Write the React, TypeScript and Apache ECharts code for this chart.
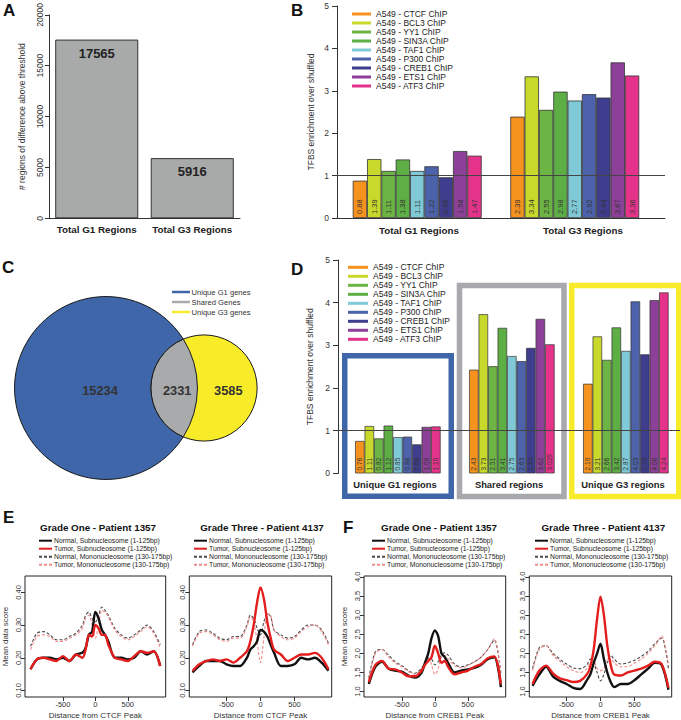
import React, { useEffect, useRef } from 'react';
import * as echarts from 'echarts';

const FONT = "'Liberation Sans', Arial, Helvetica, sans-serif";

// ---------- Panel A ----------
const A_CATEGORIES = ['Total G1 Regions', 'Total G3 Regions'];
const A_VALUES = [17565, 5916];

// ---------- TF list (B, D) ----------
const TF_NAMES = [
  'A549 - CTCF ChIP', 'A549 - BCL3 ChIP', 'A549 - YY1 ChIP', 'A549 - SIN3A ChIP', 'A549 - TAF1 ChIP',
  'A549 - P300 ChIP', 'A549 - CREB1 ChIP', 'A549 - ETS1 ChIP', 'A549 - ATF3 ChIP',
];
const TF_COLORS = ['#f6921e', '#c8d92b', '#6cb443', '#5dae45', '#7fcad6', '#4c62ab', '#3f3d8e', '#8d4098', '#e5338b'];

// ---------- Panel B ----------
const B_GROUPS = ['Total G1 Regions', 'Total G3 Regions'];
const B_G1 = [0.88, 1.39, 1.11, 1.38, 1.11, 1.22, 0.96, 1.58, 1.47];
const B_G3 = [2.39, 3.34, 2.55, 2.98, 2.77, 2.92, 2.84, 3.67, 3.36];

// ---------- Panel C ----------
const C_LABELS = ['Unique G1 genes', 'Shared Genes', 'Unique G3 genes'];
const C_VALUES = [15234, 2331, 3585];
const C_COLORS = ['#3f66a8', '#a8aaac', '#f8ec29'];

// ---------- Panel D ----------
const D_GROUPS = ['Unique G1 regions', 'Shared regions', 'Unique G3 regions'];
const D_UNIQUE_G1 = [0.76, 1.11, 0.82, 1.12, 0.85, 0.86, 0.68, 1.09, 1.10];
const D_SHARED = [2.43, 3.73, 2.51, 3.41, 2.75, 2.63, 2.94, 3.62, 3.025];
const D_UNIQUE_G3 = [2.10, 3.21, 2.66, 3.42, 2.87, 4.03, 2.79, 4.06, 4.24];
const D_BOX_COLORS = ['#3f66a9', '#a7a9ac', '#f8ec2a'];

// ---------- Panels E, F ----------
const X_POS = [-1000, -900, -800, -700, -600, -500, -400, -300, -200, -150, -100, -50, 0, 50, 100, 150, 200, 300, 400, 500, 600, 700, 800, 900, 1000];
const LINE_NAMES = ['Normal, Subnucleosome (1-125bp)', 'Tumor, Subnucleosome (1-125bp)', 'Normal, Mononucleosome (130-175bp)', 'Tumor, Mononucleosome (130-175bp)'];

const E1_NORMAL_SUB = [0.165, 0.195, 0.20, 0.20, 0.195, 0.20, 0.19, 0.21, 0.215, 0.23, 0.27, 0.28, 0.34, 0.32, 0.285, 0.27, 0.25, 0.20, 0.20, 0.195, 0.20, 0.22, 0.21, 0.22, 0.175];
const E1_TUMOR_SUB = [0.165, 0.195, 0.20, 0.195, 0.19, 0.205, 0.19, 0.21, 0.20, 0.225, 0.27, 0.265, 0.30, 0.29, 0.27, 0.27, 0.24, 0.20, 0.195, 0.19, 0.205, 0.22, 0.215, 0.22, 0.175];
const E1_NORMAL_MONO = [0.235, 0.275, 0.28, 0.27, 0.255, 0.255, 0.265, 0.275, 0.30, 0.33, 0.34, 0.32, 0.31, 0.33, 0.355, 0.345, 0.33, 0.29, 0.27, 0.26, 0.27, 0.285, 0.30, 0.28, 0.24];
const E1_TUMOR_MONO = [0.225, 0.265, 0.27, 0.265, 0.25, 0.25, 0.26, 0.27, 0.29, 0.32, 0.33, 0.30, 0.26, 0.30, 0.345, 0.34, 0.325, 0.285, 0.265, 0.255, 0.265, 0.28, 0.295, 0.275, 0.23];

const E3_NORMAL_SUB = [0.155, 0.175, 0.19, 0.19, 0.19, 0.18, 0.175, 0.175, 0.20, 0.225, 0.235, 0.25, 0.285, 0.28, 0.265, 0.24, 0.215, 0.175, 0.175, 0.18, 0.20, 0.195, 0.20, 0.185, 0.16];
const E3_TUMOR_SUB = [0.16, 0.18, 0.19, 0.195, 0.19, 0.195, 0.185, 0.20, 0.22, 0.25, 0.30, 0.37, 0.415, 0.38, 0.31, 0.26, 0.225, 0.21, 0.19, 0.20, 0.21, 0.21, 0.215, 0.20, 0.165];
const E3_NORMAL_MONO = [0.24, 0.28, 0.285, 0.275, 0.26, 0.255, 0.265, 0.265, 0.30, 0.33, 0.32, 0.29, 0.27, 0.31, 0.335, 0.325, 0.285, 0.27, 0.26, 0.265, 0.285, 0.30, 0.30, 0.285, 0.245];
const E3_TUMOR_MONO = [0.235, 0.275, 0.28, 0.27, 0.255, 0.25, 0.26, 0.26, 0.295, 0.325, 0.31, 0.25, 0.185, 0.26, 0.335, 0.33, 0.285, 0.265, 0.255, 0.26, 0.28, 0.295, 0.30, 0.28, 0.24];

const F1_NORMAL_SUB = [1.2, 1.65, 1.78, 1.6, 1.55, 1.52, 1.42, 1.37, 1.5, 1.75, 2.0, 2.4, 2.6, 2.45, 2.0, 1.9, 1.75, 1.5, 1.55, 1.58, 1.62, 1.7, 1.85, 1.9, 1.12];
const F1_TUMOR_SUB = [1.25, 1.7, 1.8, 1.6, 1.58, 1.5, 1.4, 1.4, 1.55, 1.7, 1.8, 1.9, 2.2, 2.0, 1.75, 1.8, 1.65, 1.45, 1.5, 1.55, 1.65, 1.72, 1.87, 1.92, 1.2];
const F1_NORMAL_MONO = [1.35, 2.05, 2.1, 1.95, 1.78, 1.68, 1.55, 1.48, 1.62, 1.75, 1.87, 1.85, 1.7, 1.78, 1.95, 2.02, 1.95, 1.72, 1.65, 1.7, 1.78, 1.9, 2.1, 2.35, 1.45];
const F1_TUMOR_MONO = [1.3, 2.0, 2.1, 1.9, 1.75, 1.65, 1.52, 1.45, 1.6, 1.75, 1.9, 1.7, 1.45, 1.6, 1.9, 1.95, 1.85, 1.68, 1.62, 1.68, 1.78, 1.9, 2.1, 2.38, 1.5];

const F3_NORMAL_SUB = [1.15, 1.45, 1.65, 1.4, 1.28, 1.2, 1.1, 1.07, 1.3, 1.45, 1.75, 2.0, 2.25, 1.85, 1.5, 1.25, 1.12, 1.2, 1.2, 1.3, 1.45, 1.6, 1.75, 1.7, 1.05];
const F3_TUMOR_SUB = [1.2, 1.55, 1.68, 1.48, 1.35, 1.3, 1.25, 1.28, 1.45, 1.65, 2.1, 2.9, 3.48, 3.0, 2.2, 1.7, 1.45, 1.42, 1.5, 1.55, 1.6, 1.68, 1.78, 1.72, 1.1];
const F3_NORMAL_MONO = [1.6, 2.15, 2.2, 2.0, 1.85, 1.72, 1.62, 1.6, 1.7, 1.85, 1.75, 1.5, 1.28, 1.45, 1.75, 1.95, 1.85, 1.72, 1.75, 1.82, 1.92, 2.05, 2.25, 2.4, 1.6];
const F3_TUMOR_MONO = [1.55, 2.1, 2.2, 1.95, 1.8, 1.65, 1.55, 1.5, 1.6, 1.75, 1.8, 1.6, 1.55, 1.6, 1.85, 1.85, 1.75, 1.65, 1.65, 1.75, 1.85, 2.0, 2.2, 2.45, 1.7];

const E_Y_TICKS = [0.1, 0.2, 0.3, 0.4];
const F_Y_TICKS = [1.0, 1.5, 2.0, 2.5, 3.0, 3.5, 4.0];
const X_TICKS = [-500, 0, 500];

const fmtVal = (v: number) => {
  const s = String(v);
  const dec = s.split('.')[1];
  return dec && dec.length > 2 ? s : v.toFixed(2);
};

export default function App() {
  const ref = useRef<HTMLDivElement>(null);

  useEffect(() => {
    if (!ref.current) return;

    // ----- Venn geometry (area proportional radii) -----
    const K = 0.69;
    const r1 = K * Math.sqrt(C_VALUES[0] + C_VALUES[1]);
    const r2 = K * Math.sqrt(C_VALUES[2] + C_VALUES[1]);
    const cy = 388;
    const c1x = 106;
    const c2x = 151 + r2;
    const d = c2x - c1x;
    const a = (d * d + r1 * r1 - r2 * r2) / (2 * d);
    const h = Math.sqrt(Math.max(0, r1 * r1 - a * a));
    const ix = c1x + a;
    const lensD = `M ${ix} ${cy - h} A ${r2} ${r2} 0 0 0 ${ix} ${cy + h} A ${r1} ${r1} 0 0 0 ${ix} ${cy - h} Z`;
    echarts.graphic.registerShape('vennLens', echarts.graphic.extendPath(lensD, {}) as any);

    const chart = echarts.init(ref.current, null, { renderer: 'svg' });

    const axisColor = '#333';
    const tickLabel = { color: '#333', fontSize: 8.5, fontFamily: FONT };

    // ----- B and D bar layout -----
    const B_XMAX = 22.9;
    const B_START = 1.1;
    const B_STEP = 11;
    const D_XMAX = 36;
    const D_START = 1.8;
    const D_STEP = 12;
    const bGroups = [B_G1, B_G3];
    const dGroups = [D_UNIQUE_G1, D_SHARED, D_UNIQUE_G3];

    const xAxis: any[] = [];
    const yAxis: any[] = [];
    const grid: any[] = [];
    const series: any[] = [];
    const legend: any[] = [];
    const graphic: any[] = [];

    // ===== Panel A =====
    grid.push({ left: 49, top: 5, width: 191, height: 213.3 });
    xAxis.push({
      gridIndex: 0, type: 'category', data: A_CATEGORIES,
      axisLine: { lineStyle: { color: axisColor } }, axisTick: { show: false },
      axisLabel: { interval: 0, fontWeight: 'bold', fontSize: 9.8, color: '#222', margin: 6, fontFamily: FONT },
    });
    yAxis.push({
      gridIndex: 0, type: 'value', min: 0, max: 20000, interval: 5000,
      axisLine: { show: true, lineStyle: { color: axisColor } },
      axisTick: { show: true, length: 4, lineStyle: { color: axisColor } },
      axisLabel: { ...tickLabel, rotate: 90, margin: 5, formatter: (v: number) => String(v) },
      splitLine: { show: false },
      name: '# regions of difference above threshold', nameLocation: 'middle', nameGap: 23,
      nameTextStyle: { fontSize: 8.5, color: '#333', fontFamily: FONT },
    });
    series.push({
      type: 'bar', xAxisIndex: 0, yAxisIndex: 0, data: A_VALUES, barCategoryGap: '13%',
      itemStyle: { color: '#a8aaa9', borderColor: '#333', borderWidth: 1 },
      label: { show: true, position: 'insideTop', distance: 7, fontWeight: 'bold', fontSize: 13, color: '#222', fontFamily: FONT },
    });

    // ===== Panel B =====
    grid.push({ left: 337, top: 6, width: 328, height: 212 });
    xAxis.push({
      gridIndex: 1, type: 'value', min: 0, max: B_XMAX,
      axisLine: { show: true, onZero: false, lineStyle: { color: axisColor } },
      axisTick: { show: false }, axisLabel: { show: false }, splitLine: { show: false },
    });
    xAxis.push({
      gridIndex: 1, type: 'category', data: B_GROUPS, position: 'bottom',
      axisLine: { show: false }, axisTick: { show: false },
      axisLabel: { interval: 0, fontWeight: 'bold', fontSize: 9.8, color: '#222', margin: 7, fontFamily: FONT },
    });
    yAxis.push({
      gridIndex: 1, type: 'value', min: 0, max: 5, interval: 1,
      axisLine: { show: true, onZero: false, lineStyle: { color: axisColor } },
      axisTick: { show: true, length: 5, lineStyle: { color: axisColor } },
      axisLabel: { ...tickLabel, margin: 8 }, splitLine: { show: false },
      name: 'TFBS enrichment over shuffled', nameLocation: 'middle', nameGap: 22,
      nameTextStyle: { fontSize: 8.5, color: '#333', fontFamily: FONT },
    });
    TF_NAMES.forEach((name, s) => {
      series.push({
        type: 'bar', name, xAxisIndex: 1, yAxisIndex: 1,
        data: bGroups.map((g, gi) => [B_START + gi * B_STEP + s + 0.5, g[s]]),
        barWidth: 14.33, barGap: '-100%',
        itemStyle: { color: TF_COLORS[s], borderColor: '#333', borderWidth: 0.8 },
        label: {
          show: true, position: 'insideBottom', rotate: 90, align: 'left', verticalAlign: 'middle',
          distance: 4, fontSize: 7.5, color: '#333', fontFamily: FONT,
          formatter: (p: any) => fmtVal(p.value[1]),
        },
        markLine: s === 0 ? {
          silent: true, symbol: 'none', label: { show: false },
          lineStyle: { color: '#444', width: 1, type: 'solid' }, data: [{ yAxis: 1 }],
        } : undefined,
      });
    });
    legend.push({
      data: TF_NAMES, orient: 'vertical', left: 352, top: 9.5, padding: 0, itemGap: 0,
      itemWidth: 19, itemHeight: 3, icon: 'rect', selectedMode: false,
      itemStyle: { borderWidth: 0 },
      textStyle: { fontSize: 8.5, lineHeight: 9, color: '#222', fontFamily: FONT },
    });

    // ===== Panel D =====
    grid.push({ left: 338, top: 260, width: 342, height: 213.4 });
    xAxis.push({
      gridIndex: 2, type: 'value', min: 0, max: D_XMAX,
      axisLine: { show: false, onZero: false }, axisTick: { show: false }, axisLabel: { show: false }, splitLine: { show: false },
    });
    xAxis.push({
      gridIndex: 2, type: 'category', data: D_GROUPS, position: 'bottom',
      axisLine: { show: false }, axisTick: { show: false },
      axisLabel: { interval: 0, fontWeight: 'bold', fontSize: 9.4, color: '#222', margin: 7, fontFamily: FONT },
    });
    yAxis.push({
      gridIndex: 2, type: 'value', min: 0, max: 5, interval: 1,
      axisLine: { show: true, onZero: false, lineStyle: { color: axisColor } },
      axisTick: { show: true, length: 5, lineStyle: { color: axisColor } },
      axisLabel: { ...tickLabel, margin: 8 }, splitLine: { show: false },
      name: 'TFBS enrichment over shuffled', nameLocation: 'middle', nameGap: 22,
      nameTextStyle: { fontSize: 8.5, color: '#333', fontFamily: FONT },
    });
    TF_NAMES.forEach((name, s) => {
      series.push({
        type: 'bar', name, xAxisIndex: 3, yAxisIndex: 2,
        data: dGroups.map((g, gi) => [D_START + gi * D_STEP + s + 0.5, g[s]]),
        barWidth: 9.5, barGap: '-100%',
        itemStyle: { color: TF_COLORS[s], borderColor: '#333', borderWidth: 0.7 },
        label: {
          show: true, position: 'insideBottom', rotate: 90, align: 'left', verticalAlign: 'middle',
          distance: 3, fontSize: 6.5, color: '#333', fontFamily: FONT,
          formatter: (p: any) => fmtVal(p.value[1]),
        },
        markLine: s === 0 ? {
          silent: true, symbol: 'none', label: { show: false },
          lineStyle: { color: '#444', width: 1, type: 'solid' }, data: [{ yAxis: 1 }],
        } : undefined,
      });
    });
    legend.push({
      data: TF_NAMES, orient: 'vertical', left: 348, top: 262.8, padding: 0, itemGap: 0,
      itemWidth: 20, itemHeight: 3, icon: 'rect', selectedMode: false,
      itemStyle: { borderWidth: 0 },
      textStyle: { fontSize: 8.5, lineHeight: 9, color: '#222', fontFamily: FONT },
    });

    // ===== Panels E, F =====
    const LINE_STYLES = [
      { color: '#111111', width: 2.4, type: 'solid' },
      { color: '#e31e1e', width: 2.4, type: 'solid' },
      { color: '#4a4a4a', width: 1.1, type: [3, 2] },
      { color: '#f08a8a', width: 1.1, type: [3, 2] },
    ];
    const SUBPLOTS = [
      { title: 'Grade One - Patient 1357', titleX: 98, left: 24, width: 141.7, xHalf: 1085, yMin: 0.08, yMax: 0.45, ticks: E_Y_TICKS, dec: 2,
        xName: 'Distance from CTCF Peak', yName: 'Mean data score', legendLeft: 38, data: [E1_NORMAL_SUB, E1_TUMOR_SUB, E1_NORMAL_MONO, E1_TUMOR_MONO] },
      { title: 'Grade Three - Patient 4137', titleX: 262, left: 189.3, width: 142.4, xHalf: 1048, yMin: 0.08, yMax: 0.45, ticks: E_Y_TICKS, dec: 2,
        xName: 'Distance from CTCF Peak', yName: '', legendLeft: 193, data: [E3_NORMAL_SUB, E3_TUMOR_SUB, E3_NORMAL_MONO, E3_TUMOR_MONO] },
      { title: 'Grade One - Patient 1357', titleX: 439, left: 364, width: 141.7, xHalf: 1073, yMin: 0.86, yMax: 4.02, ticks: F_Y_TICKS, dec: 1,
        xName: 'Distance from CREB1 Peak', yName: 'Mean data score', legendLeft: 371, data: [F1_NORMAL_SUB, F1_TUMOR_SUB, F1_NORMAL_MONO, F1_TUMOR_MONO] },
      { title: 'Grade Three - Patient 4137', titleX: 603.3, left: 529.3, width: 142.4, xHalf: 1048, yMin: 0.86, yMax: 4.02, ticks: F_Y_TICKS, dec: 1,
        xName: 'Distance from CREB1 Peak', yName: '', legendLeft: 534, data: [F3_NORMAL_SUB, F3_TUMOR_SUB, F3_NORMAL_MONO, F3_TUMOR_MONO] },
    ];
    SUBPLOTS.forEach((sp) => {
      const gi = grid.length;
      grid.push({ left: sp.left, top: 576, width: sp.width, height: 124, show: true, borderColor: '#222', borderWidth: 1, backgroundColor: 'transparent' });
      const xi = xAxis.length;
      xAxis.push({
        gridIndex: gi, type: 'value', min: -sp.xHalf, max: sp.xHalf, position: 'bottom',
        axisLine: { show: false, onZero: false },
        axisTick: { show: true, length: 4, customValues: X_TICKS, lineStyle: { color: axisColor } },
        axisLabel: { customValues: X_TICKS, fontSize: 7.5, color: '#333', margin: 3, fontFamily: FONT },
        splitLine: { show: false },
        name: sp.xName, nameLocation: 'middle', nameGap: 14,
        nameTextStyle: { fontSize: 8, color: '#333', fontFamily: FONT },
      });
      const yi = yAxis.length;
      yAxis.push({
        gridIndex: gi, type: 'value', min: sp.yMin, max: sp.yMax, position: 'left',
        axisLine: { show: false, onZero: false },
        axisTick: { show: true, length: 4, customValues: sp.ticks, lineStyle: { color: axisColor } },
        axisLabel: { customValues: sp.ticks, rotate: 90, fontSize: 7.5, color: '#333', margin: 3, fontFamily: FONT,
          formatter: (v: number) => v.toFixed(sp.dec) },
        splitLine: { show: false },
        name: sp.yName, nameLocation: 'middle', nameGap: 16,
        nameTextStyle: { fontSize: 8, color: '#333', fontFamily: FONT },
      });
      sp.data.forEach((arr, k) => {
        series.push({
          type: 'line', name: LINE_NAMES[k], xAxisIndex: xi, yAxisIndex: yi,
          data: X_POS.map((x, j) => [x, arr[j]]),
          symbol: 'none', showSymbol: false, smooth: 0.3,
          lineStyle: LINE_STYLES[k], itemStyle: { color: LINE_STYLES[k].color },
          z: k < 2 ? 4 : 3,
        });
      });
      legend.push({
        data: LINE_NAMES, orient: 'vertical', left: sp.legendLeft, top: 536.7, padding: 0, itemGap: 0,
        itemWidth: 13, itemHeight: 6, selectedMode: false,
        itemStyle: { opacity: 0 },
        textStyle: { fontSize: 6.8, lineHeight: 8, color: '#222', fontFamily: FONT, padding: [0, 0, 0, -3] },
      });
      graphic.push({
        type: 'text', x: sp.titleX, y: 527.7,
        style: { text: sp.title, fill: '#111', font: `bold 9.8px ${FONT}`, textAlign: 'center', textVerticalAlign: 'middle' },
      });
    });

    // ===== Panel letters =====
    const LETTERS = [['A', 3, 2], ['B', 291, 2], ['C', 2, 259], ['D', 291, 261], ['E', 3, 509], ['F', 343, 519]];
    LETTERS.forEach(([t, x, y]) => {
      graphic.push({ type: 'text', x, y, style: { text: t, fill: '#111', font: `bold 17px ${FONT}` } });
    });

    // ===== Panel C: Venn =====
    graphic.push({ type: 'circle', shape: { cx: c1x, cy, r: r1 }, style: { fill: C_COLORS[0], stroke: '#1a1a1a', lineWidth: 1 }, z: 1 });
    graphic.push({ type: 'circle', shape: { cx: c2x, cy, r: r2 }, style: { fill: C_COLORS[2], stroke: '#1a1a1a', lineWidth: 1 }, z: 1 });
    graphic.push({ type: 'vennLens', x: 0, y: 0, style: { fill: C_COLORS[1], stroke: '#1a1a1a', lineWidth: 1 }, z: 2 });
    const vennTextX = [c1x - 6, (c2x - r2 + c1x + r1) / 2 + 3, (c1x + r1 + c2x + r2) / 2 + 1];
    C_VALUES.forEach((v, i) => {
      graphic.push({
        type: 'text', x: vennTextX[i], y: cy + 2, z: 3,
        style: { text: String(v), fill: '#333', font: `bold 12.8px ${FONT}`, textAlign: 'center', textVerticalAlign: 'middle' },
      });
    });
    C_LABELS.forEach((lab, i) => {
      const y = 292 + i * 10;
      graphic.push({ type: 'line', shape: { x1: 172, y1: y, x2: 190, y2: y }, style: { stroke: C_COLORS[i], lineWidth: 2.5 }, z: 3 });
      graphic.push({ type: 'text', x: 191.5, y, z: 3, style: { text: lab, fill: '#333', font: `7.6px ${FONT}`, textVerticalAlign: 'middle' } });
    });

    // ===== Panel D boxes =====
    const D_BOXES = [
      { x: 344.75, y: 355.75, w: 106.5, h: 140.5 },
      { x: 459.5, y: 285.5, w: 104.5, h: 211 },
      { x: 571.75, y: 285.5, w: 107, h: 211 },
    ];
    D_BOXES.forEach((b, i) => {
      graphic.push({ type: 'rect', shape: { x: b.x, y: b.y, width: b.w, height: b.h }, style: { fill: 'none', stroke: D_BOX_COLORS[i], lineWidth: 5.5 }, z: 0 });
    });

    chart.setOption({
      animation: false,
      backgroundColor: '#ffffff',
      textStyle: { fontFamily: FONT },
      grid, xAxis, yAxis, series, legend, graphic,
    });

    return () => chart.dispose();
  }, []);

  return <div ref={ref} style={{ position: 'absolute', left: 0, top: 0, width: 681, height: 720, background: '#fff' }} />;
}
